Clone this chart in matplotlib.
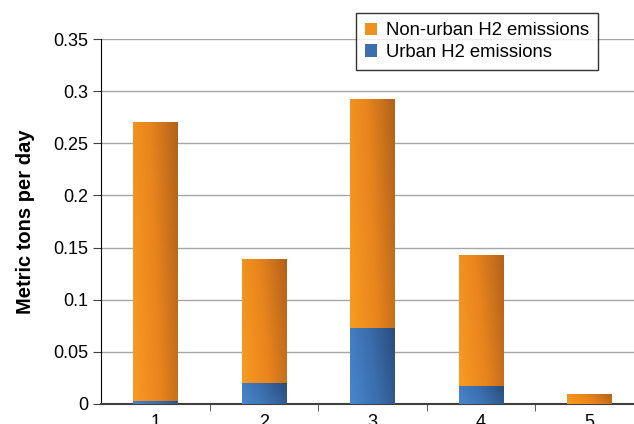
import matplotlib
matplotlib.use("Agg")
import matplotlib.pyplot as plt
import numpy as np
from matplotlib.colors import LinearSegmentedColormap
from matplotlib.patches import Patch

plt.rcParams['font.family'] = ['Liberation Sans', 'DejaVu Sans']

# Данные: выбросы H2 по сценариям
categories = ['1', '2', '3', '4', '5']
urban = [0.003, 0.020, 0.073, 0.017, 0.0]
non_urban = [0.267, 0.119, 0.2195, 0.126, 0.0096]
y_ticks = [0, 0.05, 0.1, 0.15, 0.2, 0.25, 0.3, 0.35]
y_tick_labels = ['0', '0.05', '0.1', '0.15', '0.2', '0.25', '0.3', '0.35']

ORANGE_CMAP = LinearSegmentedColormap.from_list('org', ['#F89B22', '#E8841C', '#B2621A'])
BLUE_CMAP = LinearSegmentedColormap.from_list('blu', ['#4A86CC', '#3B6FAE', '#2A4C7C'])


def gradient_fill(ax, bars, cmap):
    """Заливка столбцов диагональным градиентом."""
    gx, gy = np.meshgrid(np.linspace(0, 1, 64), np.linspace(0, 1, 64))
    grad = 0.8 * gx + 0.2 * gy
    for bar in bars:
        x0, y0 = bar.get_x(), bar.get_y()
        w, h = bar.get_width(), bar.get_height()
        if h <= 0:
            continue
        im = ax.imshow(grad, cmap=cmap, extent=(x0, x0 + w, y0, y0 + h),
                       origin='lower', aspect='auto', zorder=3, vmin=0, vmax=1)
        im.set_clip_path(bar)


fig = plt.figure(figsize=(6.34, 4.24), dpi=100)
ax = fig.add_axes([101 / 634, 20 / 424, 543 / 634, 365 / 424])

x = np.arange(1, len(categories) + 1)
width = 0.41

bars_u = ax.bar(x, urban, width, color='#3B6FAE', zorder=2)
bars_n = ax.bar(x, non_urban, width, bottom=urban, color='#E8841C', zorder=2)
gradient_fill(ax, bars_u, BLUE_CMAP)
gradient_fill(ax, bars_n, ORANGE_CMAP)

ax.set_xlim(0.5, 5.5)
ax.set_ylim(0, 0.35)
ax.set_yticks(y_ticks)
ax.set_yticklabels(y_tick_labels, fontsize=13)
ax.yaxis.grid(True, color='#A6A6A6', linewidth=1.0)
ax.set_axisbelow(True)

# Подписи категорий без делений, деления между категориями
ax.set_xticks(x)
ax.set_xticklabels(categories, fontsize=13)
ax.tick_params(axis='x', which='major', length=0, pad=7)
ax.set_xticks(np.arange(1.5, 5.5, 1), minor=True)
ax.tick_params(axis='x', which='minor', length=5, direction='out', color='#404040')
ax.tick_params(axis='y', length=6, direction='out', color='#404040', pad=3)

for side in ['top', 'right']:
    ax.spines[side].set_visible(False)
ax.spines['left'].set_color('black')
ax.spines['bottom'].set_color('#404040')
ax.spines['bottom'].set_linewidth(1.5)

ax.set_ylabel('Metric tons per day', fontsize=14.5, fontweight='bold', labelpad=13)

handles = [Patch(facecolor='#F0901F', edgecolor='none'),
           Patch(facecolor='#3B6FAE', edgecolor='none')]
leg = ax.legend(handles, ['Non-urban H2 emissions', 'Urban H2 emissions'],
                loc='upper left', bbox_to_anchor=(255 / 543, 1.071), borderaxespad=0,
                fontsize=13.3, frameon=True, fancybox=False, edgecolor='black',
                handlelength=0.65, handleheight=0.65, handletextpad=0.45,
                borderpad=0.5, labelspacing=0.25)
leg.get_frame().set_linewidth(1.0)
leg.set_zorder(5)

fig.savefig('out.png', dpi=100)
